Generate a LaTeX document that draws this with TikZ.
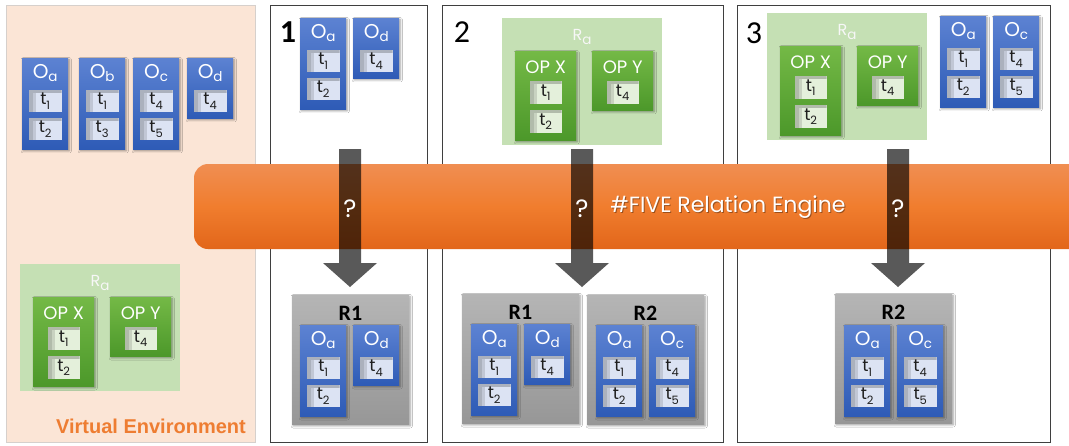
\documentclass[tikz,border=0pt]{standalone}
\usepackage{fontspec}
\setmainfont{Poppins}
\newfontfamily\calfont{Carlito}
\newfontfamily\arfont{Liberation Sans}
\usetikzlibrary{calc,shadows.blur}
\definecolor{envbg}{HTML}{FBE5D6}
\definecolor{envline}{HTML}{D6D0CC}
\definecolor{bluetop}{HTML}{5C82D2}
\definecolor{bluebot}{HTML}{2E5BB6}
\definecolor{slotblue}{HTML}{DCE3F3}
\definecolor{greentop}{HTML}{74B946}
\definecolor{greenbot}{HTML}{4C982A}
\definecolor{slotgreen}{HTML}{E4F0DB}
\definecolor{ragreen}{HTML}{C5E0B4}
\definecolor{greytop}{HTML}{B5B5B5}
\definecolor{greybot}{HTML}{979797}
\definecolor{bandtop}{HTML}{F08E52}
\definecolor{bandmid}{HTML}{F07D2E}
\definecolor{bandbot}{HTML}{E2661A}
\definecolor{veorange}{HTML}{EE7D32}
\definecolor{panelline}{HTML}{3F3F3F}
\definecolor{slottext}{HTML}{1E1E1E}
\newcommand\Osub[1]{\raisebox{-3.5pt}{\fontsize{13.5}{13.5}\selectfont #1}}
\newcommand\tsub[1]{\raisebox{-4.5pt}{\fontsize{11.5}{11.5}\selectfont #1}}
\tikzset{
  boxshadow/.style={blur shadow={shadow xshift=1pt,shadow yshift=-1.6pt,shadow blur steps=5,shadow opacity=40}},
  innershade/.style={path picture={
      \fill[black,opacity=0.22] (path picture bounding box.north west) rectangle ([xshift=4pt]path picture bounding box.south west);
      \fill[black,opacity=0.22] ([xshift=4pt]path picture bounding box.north west) rectangle ([yshift=-3pt]path picture bounding box.north east);
      \fill[black,opacity=0.12] ([xshift=4pt,yshift=-3pt]path picture bounding box.north west) rectangle ([xshift=7pt]path picture bounding box.south west);}},
  objbox/.style={minimum width=46, minimum height=91, inner sep=0, top color=bluetop, bottom color=bluebot, boxshadow},
  opbox/.style={minimum width=61, minimum height=89, inner sep=0, top color=greentop, bottom color=greenbot, boxshadow},
  objtitle/.style={text=white, font=\fontsize{20}{20}\selectfont, inner sep=0},
  optitle/.style={text=white, font=\fontsize{18}{18}\selectfont, inner sep=0},
  objslot/.style={minimum width=33, minimum height=22, inner sep=0, fill=slotblue, innershade, text=slottext, font=\fontsize{17}{17}\selectfont},
  opslot/.style={minimum width=32, minimum height=23, inner sep=0, fill=slotgreen, innershade, text=slottext, font=\fontsize{17}{17}\selectfont},
  rabox/.style={minimum width=160, minimum height=127, inner sep=0, fill=ragreen},
  ralabel/.style={text=white!94!gray, font=\fontsize{16}{16}\selectfont, inner sep=0},
  rbox/.style={minimum width=117, minimum height=129, inner sep=0, top color=greytop, bottom color=greybot, boxshadow},
  rlabel/.style={text=black, font=\calfont\bfseries\fontsize{22}{22}\selectfont, inner sep=0},
  panel/.style={draw=panelline, line width=1.3pt, fill=white, inner sep=0},
  panelnum/.style={text=black, font=\calfont\fontsize{32}{32}\selectfont, inner sep=0},
  arrowfill/.style={fill=black, fill opacity=0.65},
  qmark/.style={text=white, font=\fontsize{25}{25}\selectfont, inner sep=0},
}
% object box: name, x, y, letter, t1, t2 (empty for one slot)
\newcommand\Obj[6]{%
  \ifx\relax#6\relax\def\objh{60}\else\def\objh{91}\fi
  \node[objbox, minimum height=\objh, anchor=north west] (#1) at (#2,#3) {};
  \node[objtitle] (#1-t) at ($(#1.north)+(0,15)$) {O\Osub{#4}};
  \node[objslot, anchor=north west] (#1-1) at (#2+6.5,#3+32) {t\tsub{#5}};
  \ifx\relax#6\relax\else
  \node[objslot, anchor=north west] (#1-2) at (#2+6.5,#3+60) {t\tsub{#6}};
  \fi}
% operation box: name, x, y, label, t1, t2
\newcommand\Op[6]{%
  \ifx\relax#6\relax\def\oph{59}\else\def\oph{89}\fi
  \node[opbox, minimum height=\oph, anchor=north west] (#1) at (#2,#3) {};
  \node[optitle] (#1-t) at ($(#1.north)+(0,16)$) {#4};
  \node[opslot, anchor=north west] (#1-1) at (#2+14.5,#3+30) {t\tsub{#5}};
  \ifx\relax#6\relax\else
  \node[opslot, anchor=north west] (#1-2) at (#2+14.5,#3+59) {t\tsub{#6}};
  \fi}
% relation group Ra: name, x, y
\newcommand\RaGroup[3]{%
  \node[rabox, anchor=north west] (#1) at (#2,#3) {};
  \node[ralabel] (#1-lab) at (#2+80,#3+19) {R\Osub{a}};
  \Op{#1x}{#2+13}{#3+33}{OP X}{1}{2}
  \Op{#1y}{#2+90}{#3+33}{OP Y}{4}{}}
% result box: name, x, y, label
\newcommand\RBox[4]{%
  \node[rbox, anchor=north west] (#1) at (#2,#3) {};
  \node[rlabel] (#1-lab) at (#2+58.5,#3+18) {#4};}
% arrow: name, x of centre, top y, tip y
\newcommand\DownArrow[4]{%
  \coordinate (#1s) at (#2,#3);
  \coordinate (#1e) at (#2,#4);
  \fill[arrowfill] ($(#1s)+(-11,0)$) -- ($(#1s)+(11,0)$) -- ($(#1e)+(11,-24)$) -- ($(#1e)+(27,-24)$) -- (#1e) -- ($(#1e)+(-27,-24)$) -- ($(#1e)+(-11,-24)$) -- cycle;}
\begin{document}
\begin{tikzpicture}[x=1pt,y=-1pt]
\clip (0,0) rectangle (1069,445);
\fill[white] (0,0) rectangle (1069,445);
% virtual environment
\node[fill=envbg, draw=envline, line width=0.6pt, minimum width=249, minimum height=437, inner sep=0, anchor=north west] (env) at (6,5) {};
\Obj{ea}{22}{58}{a}{1}{2}
\Obj{eb}{79}{58}{b}{1}{3}
\Obj{ec}{133}{58}{c}{4}{5}
\Obj{ed}{187}{58}{d}{4}{}
\RaGroup{era}{20}{264}
\node[text=veorange, font=\arfont\bfseries\fontsize{20}{20}\selectfont, inner sep=0, anchor=base east] (vel) at (246,433) {Virtual Environment};
% panels
\node[panel, minimum width=157, minimum height=437, anchor=north west] (p1) at (270,5) {};
\node[panel, minimum width=281, minimum height=437, anchor=north west] (p2) at (442,5) {};
\node[panel, minimum width=313, minimum height=437, anchor=north west] (p3) at (737,5) {};
\node[panelnum, font=\calfont\bfseries\fontsize{32}{32}\selectfont] (n1) at (288,32) {1};
\node[panelnum] (n2) at (462,32) {2};
\node[panelnum] (n3) at (754,33) {3};
% panel 1
\Obj{aa}{300}{18}{a}{1}{2}
\Obj{ad}{353}{18}{d}{4}{}
\RBox{r1a}{292}{295}{R1}
\Obj{ra}{300}{325}{a}{1}{2}
\Obj{rd}{353}{325}{d}{4}{}
% panel 2
\RaGroup{bra}{502}{18}
\RBox{r1b}{462}{294}{R1}
\Obj{sa}{471}{324}{a}{1}{2}
\Obj{sd}{524}{324}{d}{4}{}
\RBox{r2b}{587}{295}{R2}
\Obj{ta}{596}{325}{a}{1}{2}
\Obj{tc}{649}{325}{c}{4}{5}
% panel 3
\RaGroup{cra}{767}{13}
\Obj{ca}{940}{16}{a}{1}{2}
\Obj{cc}{993}{16}{c}{4}{5}
\RBox{r2c}{835}{294}{R2}
\Obj{ua}{844}{325}{a}{1}{2}
\Obj{uc}{897}{325}{c}{4}{5}
% engine band
\shade[top color=bandtop, bottom color=bandbot, middle color=bandmid, rounded corners=14pt] (194,164) rectangle (1090,249);
\coordinate (bandc) at (728,207);
\node[text=black, opacity=0.35, font=\fontsize{22}{22}\selectfont, inner sep=0] at ($(bandc)+(1,1.2)$) {\#FIVE Relation Engine};
\node[text=white, font=\fontsize{22}{22}\selectfont, inner sep=0] (band) at (bandc) {\#FIVE Relation Engine};
% arrows
\DownArrow{a1}{350}{149}{287}
\DownArrow{a2}{582}{149}{287}
\DownArrow{a3}{898}{149}{287}
\node[qmark] (q1) at (350,209) {?};
\node[qmark] (q2) at (582,209) {?};
\node[qmark] (q3) at (898,209) {?};
\end{tikzpicture}
\end{document}
